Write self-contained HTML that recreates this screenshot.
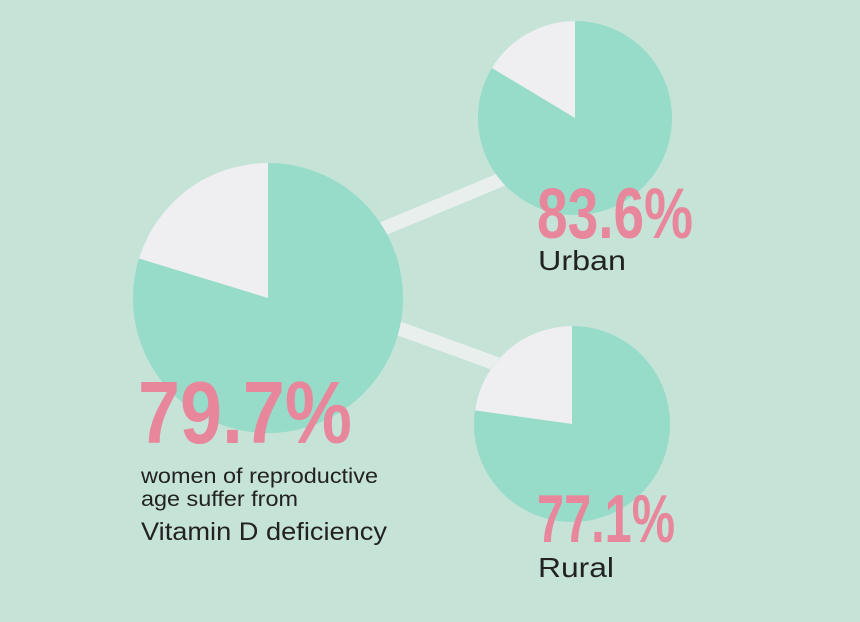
<!DOCTYPE html>
<html><head><meta charset="utf-8"><style>
html,body{margin:0;padding:0;background:#c5e3d7;}
svg{display:block}
text{font-family:"Liberation Sans",sans-serif;}
</style></head><body>
<svg width="860" height="622" viewBox="0 0 860 622">
<rect width="860" height="622" fill="#c5e3d7"/>
<line x1="380" y1="230" x2="505" y2="178" stroke="#e9efed" stroke-width="14"/>
<line x1="395" y1="327" x2="505" y2="367" stroke="#e9efed" stroke-width="14"/>
<circle cx="268" cy="298" r="135" fill="#97dbc9"/>
<path d="M268 298 L268 163 A135 135 0 0 0 139 258.5 Z" fill="#efeff1"/>
<circle cx="575" cy="118" r="97" fill="#97dbc9"/>
<path d="M575 118 L575 21 A97 97 0 0 0 491.9 68 Z" fill="#efeff1"/>
<circle cx="572" cy="424" r="98" fill="#97dbc9"/>
<path d="M572 424 L572 326 A98 98 0 0 0 475 410.4 Z" fill="#efeff1"/>
<text x="138" y="443" font-size="88" font-weight="bold" fill="#e8869c" textLength="214" lengthAdjust="spacingAndGlyphs">79.7%</text>
<text x="537" y="238" font-size="71" font-weight="bold" fill="#e8869c" textLength="156" lengthAdjust="spacingAndGlyphs">83.6%</text>
<text x="537" y="542" font-size="68" font-weight="bold" fill="#e8869c" textLength="138" lengthAdjust="spacingAndGlyphs">77.1%</text>
<text x="538" y="270" font-size="28" fill="#222" textLength="88" lengthAdjust="spacingAndGlyphs">Urban</text>
<text x="538" y="577" font-size="28" fill="#222" textLength="76" lengthAdjust="spacingAndGlyphs">Rural</text>
<text x="141" y="483" font-size="21" fill="#222" textLength="237" lengthAdjust="spacingAndGlyphs">women of reproductive</text>
<text x="141" y="506" font-size="21" fill="#222" textLength="157" lengthAdjust="spacingAndGlyphs">age suffer from</text>
<text x="141" y="540" font-size="25" fill="#222" textLength="246" lengthAdjust="spacingAndGlyphs">Vitamin D deficiency</text>
</svg>
</body></html>
